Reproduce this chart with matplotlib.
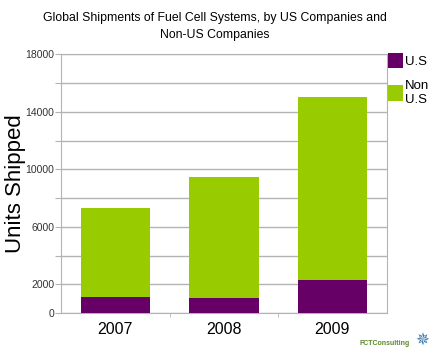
import numpy as np
import matplotlib.pyplot as plt
from matplotlib import font_manager

years = ["2007", "2008", "2009"]
us_units = [1100, 1080, 2300]
non_us_units = [6200, 8400, 12700]   # stacked on top of US
ytick_labels = [0, 2000, 6000, 10000, 14000, 18000]

names = {f.name for f in font_manager.fontManager.ttflist}
narrow = "Liberation Sans Narrow" if "Liberation Sans Narrow" in names else "Liberation Sans"
plt.rcParams['font.family'] = ['Liberation Sans', 'DejaVu Sans']

purple = "#660066"
green = "#99cc00"
grid_c = "#b3b3b3"

fig = plt.figure(figsize=(4.33, 3.56), dpi=100)
ax = fig.add_axes([0.141, 0.12, 0.752, 0.728])

x = np.arange(len(years))
ax.bar(x, us_units, width=0.64, color=purple, zorder=3, label="U.S")
ax.bar(x, non_us_units, width=0.64, bottom=us_units, color=green, zorder=3,
       label="Non\nU.S")

ax.set_xlim(-0.5, 2.5)
ax.set_ylim(0, 18000)
ax.set_yticks(np.arange(0, 18001, 2000))
ax.set_yticklabels([str(v) if v in ytick_labels else "" for v in range(0, 18001, 2000)],
                   fontsize=7.5, color="#333333")
ax.yaxis.grid(True, color=grid_c, linewidth=1.0, zorder=0)

ax.set_xticks(x)
ax.set_xticklabels(years, fontsize=11.5)
ax.tick_params(axis='x', length=0, pad=6)
ax.set_xticks([0.5, 1.5], minor=True)
ax.tick_params(axis='x', which='minor', length=3, color=grid_c)
ax.tick_params(axis='y', length=4, color=grid_c, pad=1)

for s in ax.spines.values():
    s.set_color(grid_c)

ax.set_ylabel("Units Shipped", fontsize=16)
ax.yaxis.set_label_coords(-0.108, 0.5)

fig.text(0.497, 0.925, "Global Shipments of Fuel Cell Systems, by US Companies and\nNon-US Companies",
         ha='center', va='center', fontsize=8.8, family=narrow, linespacing=1.6)

leg = ax.legend(loc='upper left', bbox_to_anchor=(0.98, 1.035), frameon=False,
                fontsize=9.5, handlelength=1.15, handleheight=1.4,
                handletextpad=0.15, labelspacing=0.9, borderaxespad=0.2)

fig.text(0.83, 0.025, "FCTConsulting", fontsize=5, color="#5a8a2a",
         fontweight='bold', ha='left', va='bottom')
fig.text(0.975, 0.02, "\u2735", fontsize=12, color="#3a7ab0", ha='center', va='bottom',
         family=['DejaVu Sans'])

fig.savefig("out.png", dpi=100)
